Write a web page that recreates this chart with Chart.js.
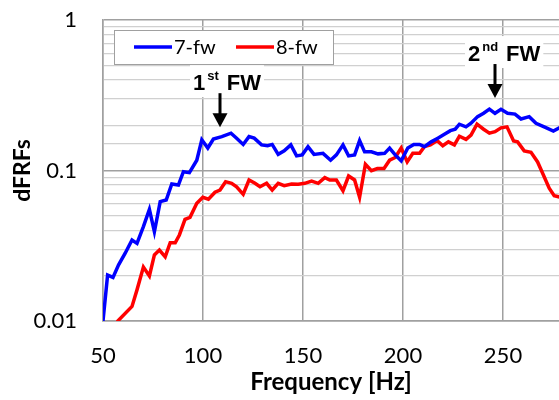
<!DOCTYPE html>
<html>
<head>
<meta charset="utf-8">
<script src="https://cdn.jsdelivr.net/npm/chart.js@4.4.1/dist/chart.umd.min.js"></script>
<style>
  html, body { margin: 0; padding: 0; background: #fff; }
  #wrap { width: 559px; height: 400px; position: relative; }
</style>
</head>
<body>
<div id="wrap"><canvas id="mainChart"></canvas></div>
<script>
'use strict';

// frequency [Hz] and dFRF values
const freq7 = [50.0, 52.3, 55.0, 57.8, 61.1, 64.5, 67.0, 70.2, 73.2, 75.7, 78.6, 81.6, 84.4, 87.7, 90.2, 93.2, 96.9, 99.4,
    102.4, 105.2, 109.4, 114.0, 116.8, 120.1, 123.0, 125.6, 129.3, 132.3, 134.6, 137.6, 140.6, 143.9, 146.8, 149.6,
    152.5, 155.5, 160.0, 163.8, 166.7, 170.0, 172.8, 175.8, 178.3, 180.8, 184.2, 187.5, 190.8, 193.3, 196.1, 199.1,
    202.4, 205.4, 208.3, 210.7, 214.1, 217.4, 220.7, 223.7, 226.1, 228.2, 231.5, 234.0, 237.3, 240.3, 243.2, 246.0,
    249.0, 252.3, 256.0, 259.0, 263.1, 266.5, 270.6, 275.2, 278.5];
const dfrf7 = [0.0100, 0.0202, 0.0195, 0.0236, 0.0282, 0.0345, 0.0328, 0.0424, 0.0552, 0.0392, 0.0621, 0.0637, 0.0813, 0.0801, 0.0982, 0.0967, 0.117, 0.160,
    0.141, 0.162, 0.168, 0.177, 0.164, 0.149, 0.168, 0.164, 0.148, 0.146, 0.149, 0.128, 0.135, 0.148, 0.125, 0.127,
    0.144, 0.128, 0.130, 0.117, 0.127, 0.148, 0.125, 0.127, 0.158, 0.133, 0.133, 0.129, 0.130, 0.141, 0.127, 0.116,
    0.141, 0.149, 0.149, 0.144, 0.155, 0.164, 0.174, 0.184, 0.188, 0.203, 0.195, 0.206, 0.228, 0.240, 0.256, 0.240,
    0.255, 0.240, 0.237, 0.220, 0.228, 0.206, 0.195, 0.183, 0.193];

const freq8 = [55.0, 57.4, 64.5, 67.0, 70.2, 73.2, 75.7, 78.2, 81.1, 83.6, 86.1, 88.2, 91.0, 93.5, 96.9, 99.9,
    102.7, 106.0, 108.5, 111.3, 114.3, 116.8, 120.1, 123.0, 126.0, 128.5, 131.8, 134.6, 137.6, 140.6, 144.3, 147.6,
    150.9, 154.3, 157.6, 160.9, 163.4, 166.7, 170.0, 172.8, 175.8, 178.3, 181.2, 184.2, 187.2, 190.5, 193.3, 196.1,
    199.1, 202.1, 204.9, 208.3, 210.7, 213.7, 217.1, 219.9, 222.7, 225.7, 228.2, 231.5, 234.0, 237.0, 240.3, 243.2,
    246.0, 249.0, 252.0, 255.3, 257.3, 260.6, 264.0, 267.3, 270.2, 273.1, 275.6, 278.5];
const dfrf8 = [0.0085, 0.0100, 0.0125, 0.0161, 0.0228, 0.0199, 0.0275, 0.0296, 0.0267, 0.0331, 0.0331, 0.0373, 0.0474, 0.0489, 0.0605, 0.0664,
    0.0644, 0.0717, 0.0742, 0.0843, 0.0822, 0.0780, 0.0695, 0.0865, 0.0822, 0.0780, 0.0822, 0.0742, 0.0822, 0.0792, 0.0813, 0.0811,
    0.0822, 0.0851, 0.0822, 0.0896, 0.0865, 0.0865, 0.0734, 0.0919, 0.0865, 0.0664, 0.110, 0.0997, 0.103, 0.103, 0.117, 0.122,
    0.141, 0.114, 0.130, 0.130, 0.144, 0.148, 0.158, 0.146, 0.155, 0.148, 0.169, 0.161, 0.172, 0.203, 0.188, 0.177,
    0.181, 0.192, 0.195, 0.157, 0.155, 0.135, 0.132, 0.114, 0.0933, 0.0762, 0.0681, 0.0665];

const xTicks = [50, 100, 150, 200, 250];
const yLabels = [0.01, 0.1, 1];

// annotation anchors: [label main, superscript, freq of arrow tip, dFRF of arrow tip]
const fwNotes = [
    ['1', 'st', 108.5, 0.194],
    ['2', 'nd', 246.0, 0.303],
];

const toPts = (xs, ys) => xs.map((x, i) => ({ x, y: ys[i] }));
const isDecade = v => Math.abs(Math.log10(v) - Math.round(Math.log10(v))) < 1e-6;

const annotations = {
    id: 'annotations',
    afterDraw(chart) {
        const { ctx, chartArea: { left, top }, scales: { x, y } } = chart;
        ctx.save();

        // legend box
        const lx = left + 11, ly = top + 10, lw = 219, lh = 34;
        ctx.fillStyle = '#fff';
        ctx.fillRect(lx, ly, lw, lh);
        ctx.strokeStyle = '#a0a0a0';
        ctx.lineWidth = 1;
        ctx.strokeRect(lx + 0.5, ly + 0.5, lw, lh);
        ctx.font = '20px Lato';
        ctx.textBaseline = 'middle';
        chart.data.datasets.forEach((ds, i) => {
            const ox = lx + 20 + i * 102;
            const cy = ly + lh / 2;
            ctx.strokeStyle = ds.borderColor;
            ctx.lineWidth = 3.5;
            ctx.beginPath(); ctx.moveTo(ox, cy); ctx.lineTo(ox + 38, cy); ctx.stroke();
            ctx.fillStyle = '#000';
            ctx.fillText(ds.label, ox + 40, cy + 1);
        });

        // FW markers
        fwNotes.forEach(([main, sup, f, v]) => {
            const tx = x.getPixelForValue(f);
            const ty = y.getPixelForValue(v);
            const stemTop = ty - 34;
            const big = 'bold 22px "Liberation Sans"';
            const small = 'bold 13px "Liberation Sans"';
            ctx.font = big;
            const wMain = ctx.measureText(main).width;
            const wFW = ctx.measureText('FW').width;
            ctx.font = small;
            const wSup = ctx.measureText(sup).width;
            const total = wMain + 2 + wSup + 8 + wFW;
            const x0 = tx - 27;
            const cy = stemTop - 11;
            ctx.fillStyle = '#fff';
            ctx.fillRect(x0 - 3, cy - 17, total + 6, 32);
            ctx.fillStyle = '#000';
            ctx.textAlign = 'left';
            ctx.textBaseline = 'alphabetic';
            ctx.font = big;
            ctx.fillText(main, x0, cy + 8);
            ctx.fillText('FW', x0 + wMain + 2 + wSup + 8, cy + 8);
            ctx.font = small;
            ctx.fillText(sup, x0 + wMain + 2, cy - 2);

            ctx.strokeStyle = '#000';
            ctx.lineWidth = 3;
            ctx.beginPath(); ctx.moveTo(tx, stemTop); ctx.lineTo(tx, ty - 12); ctx.stroke();
            ctx.beginPath();
            ctx.moveTo(tx - 7.5, ty - 14); ctx.lineTo(tx + 7.5, ty - 14); ctx.lineTo(tx, ty);
            ctx.closePath(); ctx.fill();
        });
        ctx.restore();
    },
};

const ctx = document.getElementById('mainChart').getContext('2d');
new Chart(ctx, {
    type: 'line',
    data: {
        datasets: [
            {
                label: '7-fw',
                data: toPts(freq7, dfrf7),
                borderColor: '#0000ff',
                borderWidth: 3.5,
                pointRadius: 0,
                tension: 0,
            },
            {
                label: '8-fw',
                data: toPts(freq8, dfrf8),
                borderColor: '#ff0000',
                borderWidth: 3.5,
                pointRadius: 0,
                tension: 0,
            },
        ],
    },
    options: {
        responsive: true,
        maintainAspectRatio: false,
        animation: false,
        layout: { padding: { top: 20, right: 0, left: 0, bottom: 0 } },
        plugins: { legend: { display: false }, tooltip: { enabled: false } },
        scales: {
            x: {
                type: 'linear',
                min: 50,
                max: 278,
                afterBuildTicks(axis) { axis.ticks = xTicks.map(v => ({ value: v })); },
                afterFit(axis) { axis.height = 79; axis.paddingLeft = 0; axis.paddingRight = 0; },
                ticks: { padding: 22, color: '#000', font: { family: 'Lato', size: 22 } },
                grid: { color: '#a0a0a0', lineWidth: 1.5, drawTicks: false },
                border: { color: '#a0a0a0', width: 1.5 },
                title: {
                    display: true, text: 'Frequency [Hz]', color: '#000',
                    font: { family: 'Lato', size: 24, weight: 'bold' },
                    padding: { top: 0, bottom: 3 },
                },
            },
            y: {
                type: 'logarithmic',
                min: 0.01,
                max: 1,
                afterFit(axis) { axis.width = 103; axis.paddingTop = 0; axis.paddingBottom = 0; },
                ticks: {
                    padding: 26, color: '#000', font: { family: 'Lato', size: 22 },
                    autoSkip: false,
                    callback: v => (yLabels.some(l => Math.abs(l - v) < 1e-9) ? String(v) : ''),
                },
                grid: {
                    drawTicks: false,
                    color: c => (isDecade(c.tick.value) ? '#a0a0a0' : '#d0d0d0'),
                    lineWidth: c => (isDecade(c.tick.value) ? 1.5 : 1.2),
                },
                border: { color: '#a0a0a0', width: 1.5 },
                title: {
                    display: true, text: 'dFRFs', color: '#000',
                    font: { family: 'Lato', size: 23, weight: 'bold' },
                    padding: { top: 9, bottom: 0 },
                },
            },
        },
    },
    plugins: [annotations],
});
</script>
</body>
</html>
